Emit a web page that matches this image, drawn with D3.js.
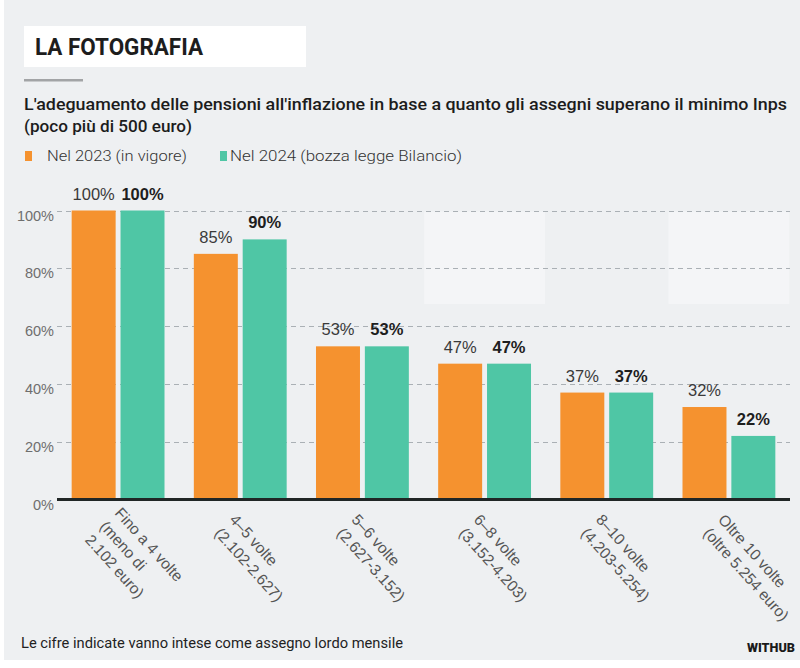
<!DOCTYPE html>
<html>
<head>
<meta charset="utf-8">
<script src="https://cdn.jsdelivr.net/npm/d3@7"></script>
<style>
  html, body { margin: 0; padding: 0; background: #ffffff; }
  svg { display: block; }
</style>
</head>
<body>
<svg id="chart" width="800" height="668"></svg>
<script>
// ---------- data ----------
const categoryLines = [
  ["Fino a 4 volte", "(meno di", "2.102 euro)"],
  ["4–5 volte", "(2.102-2.627)"],
  ["5–6 volte", "(2.627-3.152)"],
  ["6–8 volte", "(3.152-4.203)"],
  ["8–10 volte", "(4.203-5.254)"],
  ["Oltre 10 volte", "(oltre 5.254 euro)"]
];
const seriesNames = ["Nel 2023 (in vigore)", "Nel 2024 (bozza legge Bilancio)"];
const values2023 = [100, 85, 53, 47, 37, 32];
const values2024 = [100, 90, 53, 47, 37, 22];
const yTicks = [0, 20, 40, 60, 80, 100];
const titleText = "LA FOTOGRAFIA";
const subtitleLines = [
  "L'adeguamento delle pensioni all'inflazione in base a quanto gli assegni superano il minimo Inps",
  "(poco più di 500 euro)"
];
const footnote = "Le cifre indicate vanno intese come assegno lordo mensile";
const sourceText = "WITHUB";

// ---------- styles ----------
const COLORS = ["#f5922f", "#4fc6a5"];
const BG = "#eef0f2";
const svg = d3.select("#chart");

svg.append("rect").attr("x", 4).attr("y", 0).attr("width", 796).attr("height", 660).attr("fill", BG);

// title box
svg.append("rect").attr("x", 24).attr("y", 26).attr("width", 282).attr("height", 41).attr("fill", "#ffffff");
svg.append("text").attr("x", 35).attr("y", 55)
  .attr("font-family", "Roboto, 'Liberation Sans', sans-serif").attr("font-weight", 700)
  .attr("font-size", 23).attr("fill", "#1d1d1d")
  .attr("textLength", 168).attr("lengthAdjust", "spacingAndGlyphs")
  .text(titleText);
svg.append("rect").attr("x", 24).attr("y", 79).attr("width", 59).attr("height", 2.5).attr("fill", "#a2a4a6");

// subtitle
const subLens = [763, 168];
const subY = [110, 132];
subtitleLines.forEach((t, i) => {
  svg.append("text").attr("x", 24).attr("y", subY[i])
    .attr("font-family", "Roboto, 'Liberation Sans', sans-serif").attr("font-weight", 500)
    .attr("font-size", 17).attr("fill", "#1c1c1c")
    .attr("textLength", subLens[i]).attr("lengthAdjust", "spacingAndGlyphs")
    .text(t);
});

// legend
const legendItems = [
  { sx: 25, tx: 47, len: 140 },
  { sx: 220, tx: 230, len: 232 }
];
seriesNames.forEach((name, i) => {
  const it = legendItems[i];
  svg.append("rect").attr("x", it.sx).attr("y", 151).attr("width", 7).attr("height", 10).attr("fill", COLORS[i]);
  svg.append("text").attr("x", it.tx).attr("y", 161)
    .attr("font-family", "Roboto, 'Liberation Sans', sans-serif").attr("font-weight", 300)
    .attr("font-size", 15).attr("fill", "#333")
    .attr("textLength", it.len).attr("lengthAdjust", "spacingAndGlyphs")
    .text(name);
});

// ---------- scales ----------
const left = 57, right = 790;
const y = d3.scaleLinear().domain([0, 100]).range([499.5, 210.5]);
const x0 = d3.scaleBand().domain(d3.range(categoryLines.length)).range([left, right])
  .paddingInner(0.24).paddingOuter(0.12);
const x1 = d3.scaleBand().domain([0, 1]).range([0, x0.bandwidth()]).paddingInner(0.1);

// lighter panels behind some groups (upper area)
[3, 5].forEach(i => {
  svg.append("rect")
    .attr("x", x0(i) - 14).attr("width", x0.bandwidth() + 28)
    .attr("y", y(100) + 1).attr("height", y(68) - y(100))
    .attr("fill", "#f4f5f7");
});

// dashed gridlines
svg.append("g").attr("class", "grid").selectAll("path").data(yTicks.filter(d => d > 0)).join("path")
  .attr("d", d => `M${left},${Math.round(y(d)) + 0.5}H${right}`)
  .attr("fill", "none")
  .attr("stroke", "#aab0b5").attr("stroke-width", 1).attr("stroke-dasharray", "5 4");

// y labels via axis
const yAxis = d3.axisLeft(y).tickValues(yTicks).tickFormat(d => d + "%")
  .tickSize(0).tickPadding(3);
const gY = svg.append("g").attr("transform", `translate(${left},0)`).call(yAxis);
gY.select(".domain").remove();
gY.selectAll(".tick line").remove();
gY.selectAll(".tick text")
  .attr("font-family", "'Liberation Sans', Arial, sans-serif").attr("font-size", 14.5)
  .attr("fill", "#6e6e6e").attr("dy", 9.5);

// bars
const data = categoryLines.map((c, i) => ({ i, vals: [values2023[i], values2024[i]] }));
const groups = svg.append("g").selectAll("g").data(data).join("g")
  .attr("transform", d => `translate(${x0(d.i)},0)`);
groups.selectAll("rect").data(d => d.vals.map((v, k) => ({ v, k }))).join("rect")
  .attr("x", d => x1(d.k)).attr("width", x1.bandwidth())
  .attr("y", d => y(d.v)).attr("height", d => y(0) - y(d.v))
  .attr("fill", d => COLORS[d.k]);
groups.selectAll("text").data(d => d.vals.map((v, k) => ({ v, k }))).join("text")
  .attr("x", d => x1(d.k) + x1.bandwidth() / 2).attr("y", d => y(d.v) - 11)
  .attr("text-anchor", "middle")
  .attr("font-family", "'Liberation Sans', Arial, sans-serif").attr("font-size", 16.5)
  .attr("font-weight", d => d.k === 1 ? 700 : 400)
  .attr("fill", d => d.k === 1 ? "#1e1e1e" : "#3a3a3a")
  .text(d => d.v + "%");

// baseline axis
svg.append("line").attr("x1", left).attr("x2", right).attr("y1", y(0)).attr("y2", y(0))
  .attr("stroke", "#202626").attr("stroke-width", 3);

// x labels (rotated, multi-line)
const lh = 20;
categoryLines.forEach((lines, i) => {
  const cx = x0(i) + x0.bandwidth() / 2;
  const t = svg.append("text")
    .attr("transform", `translate(${cx - 19},${527}) rotate(48)`)
    .attr("font-family", "'Liberation Sans', Arial, sans-serif").attr("font-size", 15.5)
    .attr("fill", "#555");
  const n = lines.length;
  lines.forEach((ln, k) => {
    t.append("tspan").attr("x", 0).attr("y", (k - (n - 1) / 2) * lh).text(ln);
  });
});

// footer
svg.append("text").attr("x", 21).attr("y", 648)
  .attr("font-family", "Roboto, 'Liberation Sans', sans-serif").attr("font-weight", 400)
  .attr("font-size", 14).attr("fill", "#222")
  .attr("textLength", 382).attr("lengthAdjust", "spacingAndGlyphs")
  .text(footnote);
svg.append("text").attr("x", 747).attr("y", 652)
  .attr("font-family", "Roboto, 'Liberation Sans', sans-serif").attr("font-weight", 900)
  .attr("font-size", 12).attr("fill", "#1a1a1a")
  .attr("textLength", 48).attr("lengthAdjust", "spacingAndGlyphs")
  .text(sourceText);
</script>
</body>
</html>
